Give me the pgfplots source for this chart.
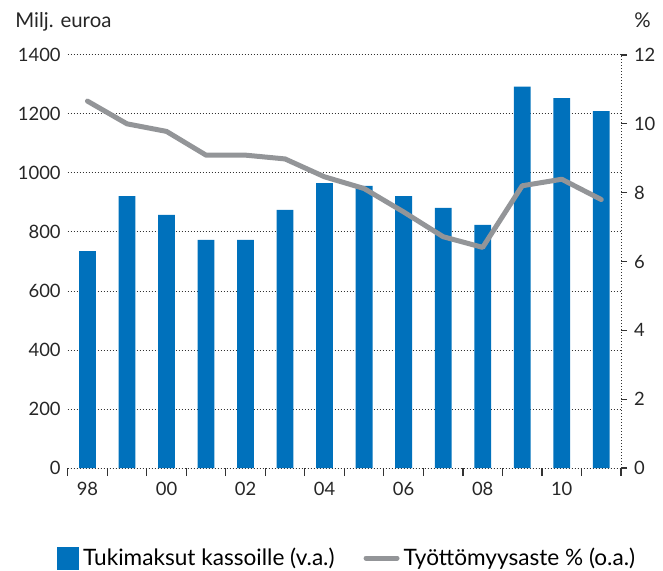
\documentclass[border=0pt]{standalone}
\usepackage{fontspec}
\setmainfont{Lato}
\usepackage{pgfplots}
\pgfplotsset{compat=1.18}
\definecolor{barblue}{RGB}{0,113,188}
\definecolor{linegray}{RGB}{147,149,152}
\definecolor{gridc}{RGB}{50,50,50}

\begin{document}
\begin{tikzpicture}
\useasboundingbox (0,0) rectangle (331.5pt,-285.5pt);
\pgfplotsset{
  common/.style={
    at={(33.85pt,-234pt)}, anchor=south west,
    scale only axis, width=276.65pt, height=206.5pt,
    xmin=-0.5, xmax=13.5,
    tick label style={font=\fontsize{9.2}{10}\selectfont, text=black!85},
    /pgf/number format/assume math mode=true,
    /pgf/number format/1000 sep={},
    tick align=outside,
    axis line style={-},
  }
}
% bars, left axis
\begin{axis}[common,
  ymin=0, ymax=1400, ytick={0,200,...,1400},
  axis x line=bottom, axis y line=left,
  x axis line style={gridc, line width=0.5pt, dash pattern=on 0.6pt off 0.9pt, -},
  y axis line style={draw=none},
  ymajorgrids,
  grid style={gridc, line width=0.5pt, dash pattern=on 0.6pt off 0.9pt},
  xtick={0,2,...,12}, xticklabels={98,00,02,04,06,08,10},
  xticklabel style={yshift=-3.5pt},
  minor xtick={-0.5,0.5,...,13.5},
  major tick length=0pt, minor tick length=4pt,
  minor tick style={gridc, line width=0.6pt},
  ybar, bar width=8.4pt,
]
\addplot[fill=barblue, draw=none] coordinates {
  (0,735) (1,922) (2,858) (3,773) (4,773) (5,875) (6,966)
  (7,956) (8,922) (9,882) (10,824) (11,1293) (12,1254) (13,1210)
};
\end{axis}
% line, right axis
\begin{axis}[common,
  ymin=0, ymax=12, ytick={0,2,...,12},
  axis x line=none, axis y line*=right,
  y axis line style={gridc, line width=0.5pt, dash pattern=on 0.6pt off 0.9pt, -},
  major tick length=3pt,
  ytick style={gridc, line width=0.6pt},
  legend columns=2,
  legend cell align=left,
  legend style={at={(-0.0193,-0.218)}, anchor=west, draw=none, fill=none,
    inner sep=0pt, font=\fontsize{11.3}{13}\selectfont,
    /tikz/every even column/.append style={column sep=12.5pt}},
]
\addlegendimage{legend image code/.code={\fill[barblue] (0pt,-5.5pt) rectangle (10.5pt,5.5pt);}}
\addlegendentry{Tukimaksut kassoille (v.a.)}
\addplot[linegray, line width=2.5pt, line join=round, line cap=round,
  legend image code/.code={\draw[linegray, line width=2.5pt, line cap=round] (1.25pt,0) -- (16.75pt,0);}]
  coordinates {
  (0,10.66) (1,10.0) (2,9.78) (3,9.09) (4,9.09) (5,8.98) (6,8.46)
  (7,8.12) (8,7.44) (9,6.72) (10,6.41) (11,8.20) (12,8.39) (13,7.80)
};
\addlegendentry{Työttömyysaste \% (o.a.)}
\end{axis}
\node[anchor=base west, inner sep=0, font=\fontsize{10.2}{12}\selectfont, text=black!85] at (7.5pt,-13.75pt) {Milj. euroa};
\node[anchor=base east, inner sep=0, font=\fontsize{10.2}{12}\selectfont, text=black!85] at (325.5pt,-13.75pt) {\%};
\end{tikzpicture}
\end{document}
